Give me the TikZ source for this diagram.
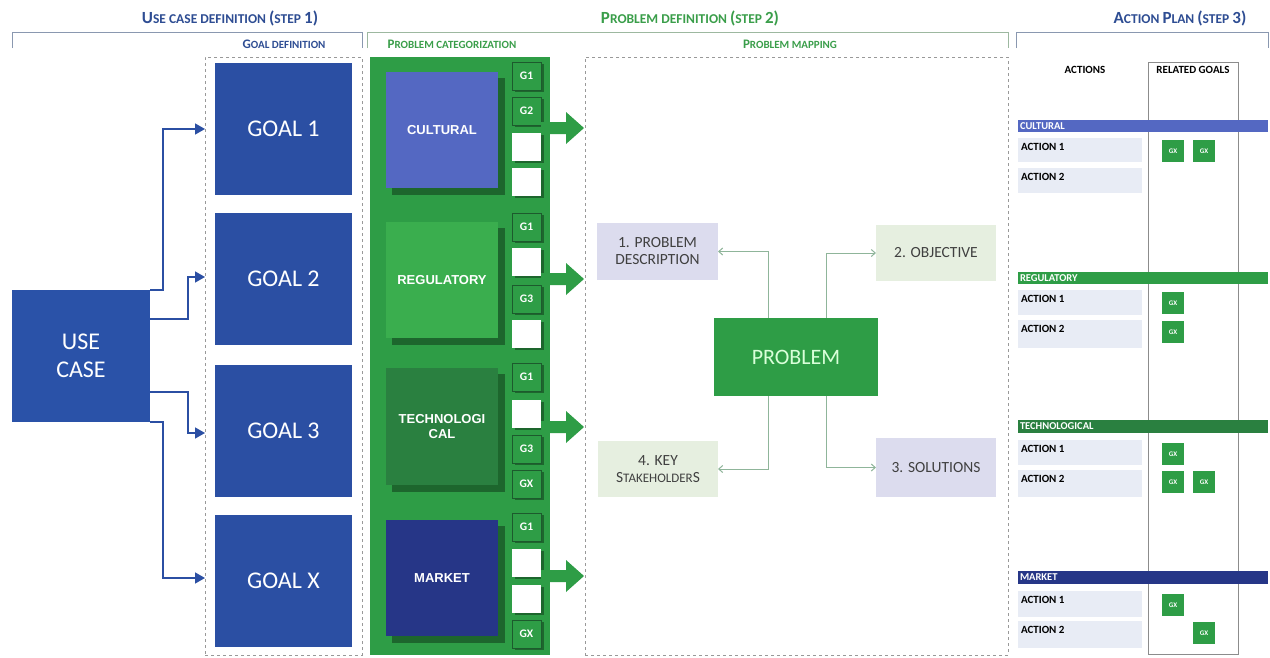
\documentclass[tikz,border=0pt]{standalone}
\usepackage{fontspec}
\setmainfont{Carlito}
\newfontfamily\arialf{Liberation Sans}
\usetikzlibrary{arrows.meta,calc}
\definecolor{gblue}{HTML}{2B4FA3}
\definecolor{ucblue}{HTML}{2A52A8}
\definecolor{pgreen}{HTML}{2E9D46}
\definecolor{cultc}{HTML}{5468C2}
\definecolor{regc}{HTML}{3AAE4E}
\definecolor{techc}{HTML}{2A8040}
\definecolor{markc}{HTML}{263687}
\definecolor{hblue}{HTML}{2E4D93}
\definecolor{hgreen}{HTML}{3A9E4A}
\definecolor{brgray}{HTML}{8A98B0}
\definecolor{brgreen}{HTML}{9DB8A0}
\definecolor{lav}{HTML}{DCDCEE}
\definecolor{lgr}{HTML}{E6EFE0}
\definecolor{rowc}{HTML}{E8ECF5}
\definecolor{connc}{HTML}{8FB59A}
\newcommand\HLg{\fontsize{17}{19}\selectfont}
\newcommand\HSm{\fontsize{13.5}{15}\selectfont}
\newcommand\SLg{\fontsize{13}{14}\selectfont}
\newcommand\SSm{\fontsize{11}{12}\selectfont}
% box macro: name, x1,y1,x2,y2, style, text
\newcommand\bx[7]{\node[#6, minimum width=#4pt-#2pt, minimum height=#5pt-#3pt] (#1) at ({(#2+#4)/2},{(#3+#5)/2}) {#7};}
\tikzset{
  base/.style={inner sep=0pt, outer sep=0pt, align=center},
  goalbox/.style={base, fill=gblue, text=white, font=\fontsize{24}{28}\selectfont},
  catbox/.style={base, text=white, font=\arialf\bfseries\fontsize{13}{15}\selectfont},
  gsq/.style={base, fill=pgreen, draw=techc!70!black, line width=0.6pt, text=white, font=\bfseries\fontsize{11.5}{12}\selectfont},
  wsq/.style={base, fill=white},
  mapbox/.style={base, text=black!75, font=\fontsize{15.5}{17}\selectfont},
  cbar/.style={base, text=white, font=\bfseries\fontsize{10.5}{11}\selectfont, anchor=west, text depth=0pt},
  rowbox/.style={base, fill=rowc},
  gx/.style={base, fill=pgreen, text=white, font=\bfseries\fontsize{7}{7}\selectfont},
  uarr/.style={draw=gblue, line width=1.5pt, -{Triangle[length=10pt,width=11pt]}},
  parr/.style={draw=connc, line width=1pt, -{Straight Barb[length=4pt,width=7pt]}},
  bracket/.style={line width=0.9pt},
  shadowc/.style={fill=black, opacity=0.35},
}
\begin{document}
\begin{tikzpicture}[x=1pt,y=-1pt]
\useasboundingbox[fill=white] (0,0) rectangle (1270,657);
% headings
\node[base, text=hblue, font=\bfseries] (h1) at (230,18) {{\HLg U}{\HSm SE CASE DEFINITION }{\HLg (}{\HSm STEP }{\HLg 1)}};
\node[base, text=hgreen, font=\bfseries] (h2) at (690,18) {{\HLg P}{\HSm ROBLEM DEFINITION }{\HLg (}{\HSm STEP }{\HLg 2)}};
\node[base, text=hblue, font=\bfseries] (h3) at (1180,18) {{\HLg A}{\HSm CTION }{\HLg P}{\HSm LAN }{\HLg (}{\HSm STEP }{\HLg 3)}};
\draw[bracket, brgray] (12,48) -- (12,32) -- (362,32) -- (362,48);
\draw[bracket, brgreen] (367,48) -- (367,32) -- (1008,32) -- (1008,48);
\draw[bracket, brgray] (1016,48) -- (1016,32) -- (1268,32) -- (1268,48);
\node[base, text=hblue, font=\bfseries] (s1) at (284,44) {{\SLg G}{\SSm OAL DEFINITION}};
\node[base, text=hgreen, font=\bfseries] (s2) at (452,44) {{\SLg P}{\SSm ROBLEM CATEGORIZATION}};
\node[base, text=hgreen, font=\bfseries] (s3) at (790,44) {{\SLg P}{\SSm ROBLEM MAPPING}};
% goal dashed box
\bx{gbox}{205}{57}{362}{655}{base, draw=black!40, dashed, line width=0.8pt}{}
\bx{g1}{215}{63}{352}{195}{goalbox}{GOAL 1}
\bx{g2}{215}{213}{352}{345}{goalbox}{GOAL 2}
\bx{g3}{215}{365}{352}{497}{goalbox}{GOAL 3}
\bx{gx}{215}{515}{352}{647}{goalbox}{GOAL X}
% use case
\bx{uc}{12}{290}{150}{422}{goalbox, fill=ucblue}{USE\\CASE}
\draw[uarr] (uc.north east) -- ++(13,0) |- (gbox.west |- g1);
\draw[uarr] ([yshift=37pt]uc.east) -- ++(38,0) |- ([yshift=2pt]gbox.west |- g2);
\draw[uarr] ([yshift=-36pt]uc.east) -- ++(38,0) |- ([yshift=-2pt]gbox.west |- g3);
\draw[uarr] (uc.south east) -- ++(13,0) |- ([yshift=3pt]gbox.west |- gx);
% green panel
\bx{panel}{370}{57}{550}{655}{base, fill=pgreen}{}
% category shadows
\fill[shadowc] (392,78) rectangle (505,195);
\fill[shadowc] (392,228) rectangle (505,345);
\fill[shadowc] (392,374) rectangle (505,492);
\fill[shadowc] (392,526) rectangle (505,643);
\bx{cult}{386}{72}{498}{188}{catbox, fill=cultc}{CULTURAL}
\bx{reg}{386}{222}{498}{338}{catbox, fill=regc}{REGULATORY}
\bx{tech}{386}{368}{498}{485}{catbox, fill=techc}{TECHNOLOGI\\CAL}
\bx{mark}{386}{520}{498}{636}{catbox, fill=markc}{MARKET}
% G squares
\foreach \y in {62,97,133,168,213,248,285,320,363,400,435,470,513,549,585,620}
  \fill[black, opacity=0.35] (515,\y+2) rectangle (544,\y+30);
\bx{c1}{512}{62}{541}{90}{gsq}{G1}
\bx{c2}{512}{97}{541}{125}{gsq}{G2}
\bx{c3}{512}{133}{541}{161}{wsq}{}
\bx{c4}{512}{168}{541}{196}{wsq}{}
\bx{r1}{512}{213}{541}{241}{gsq}{G1}
\bx{r2}{512}{248}{541}{276}{wsq}{}
\bx{r3}{512}{285}{541}{313}{gsq}{G3}
\bx{r4}{512}{320}{541}{348}{wsq}{}
\bx{t1}{512}{363}{541}{391}{gsq}{G1}
\bx{t2}{512}{400}{541}{428}{wsq}{}
\bx{t3}{512}{435}{541}{463}{gsq}{G3}
\bx{t4}{512}{470}{541}{498}{gsq}{GX}
\bx{m1}{512}{513}{541}{541}{gsq}{G1}
\bx{m2}{512}{549}{541}{577}{wsq}{}
\bx{m3}{512}{585}{541}{613}{wsq}{}
\bx{m4}{512}{620}{541}{648}{gsq}{GX}
% big green arrows
\foreach \y in {128,279,427,576}
  \fill[pgreen] (541,\y-6) -- (566,\y-6) -- (566,\y-16) -- (584,\y) -- (566,\y+16) -- (566,\y+6) -- (541,\y+6) -- cycle;
% problem mapping
\bx{mbox}{585}{57}{1008}{655}{base, draw=black!40, dashed, line width=0.8pt}{}
\bx{pd}{597}{223}{718}{280}{mapbox, fill=lav}{1. PROBLEM\\DESCRIPTION}
\bx{obj}{876}{225}{996}{281}{mapbox, fill=lgr}{2. OBJECTIVE}
\bx{sh}{598}{441}{718}{497}{mapbox, fill=lgr}{4. KEY\\S{\fontsize{13}{15}\selectfont TAKEHOLDER}S}
\bx{sol}{876}{438}{996}{497}{mapbox, fill=lav}{3. SOLUTIONS}
\bx{prob}{714}{318}{878}{396}{base, fill=pgreen, text=green!15!white, font=\fontsize{22}{26}\selectfont}{PROBLEM}
\draw[parr] ([xshift=-28pt]prob.north) |- (pd.east);
\draw[parr] ([xshift=30pt]prob.north) |- (obj.west);
\draw[parr] ([xshift=-28pt]prob.south) |- (sh.east);
\draw[parr] ([xshift=30pt]prob.south) |- (sol.west);
% action plan
\bx{rg}{1148}{62}{1238}{654}{base, draw=black!45, line width=0.8pt}{}
\node[base, font=\bfseries\fontsize{11}{12}\selectfont] (acts) at (1085,70) {ACTIONS};
\node[base, font=\bfseries\fontsize{11}{12}\selectfont] (rgl) at (1193,70) {RELATED GOALS};
\bx{bc}{1018}{120}{1268}{132}{base, fill=cultc}{}
\bx{br}{1018}{272}{1268}{284}{base, fill=pgreen}{}
\bx{bt}{1018}{420}{1268}{433}{base, fill=techc}{}
\bx{bm}{1018}{571}{1268}{584}{base, fill=markc}{}
\node[cbar] at ([xshift=2pt]bc.west) {CULTURAL};
\node[cbar] at ([xshift=2pt]br.west) {REGULATORY};
\node[cbar] at ([xshift=2pt]bt.west) {TECHNOLOGICAL};
\node[cbar] at ([xshift=2pt]bm.west) {MARKET};
\tikzset{acttxt/.style={base, anchor=north west, font=\bfseries\fontsize{11}{12}\selectfont}}
\foreach \n/\a/\b/\t in {ca1/138/162/ACTION 1, ca2/168/193/ACTION 2, ra1/290/315/ACTION 1, ra2/320/348/ACTION 2, ta1/440/465/ACTION 1, ta2/470/497/ACTION 2, ma1/591/617/ACTION 1, ma2/621/648/ACTION 2}{
  \bx{\n}{1018}{\a}{1142}{\b}{rowbox}{}
  \node[acttxt] at ([xshift=3pt,yshift=-5pt]\n.north west) {\t};
}
\bx{x1}{1162}{140}{1184}{162}{gx}{GX}
\bx{x2}{1193}{140}{1215}{162}{gx}{GX}
\bx{x3}{1162}{292}{1184}{314}{gx}{GX}
\bx{x4}{1162}{321}{1184}{343}{gx}{GX}
\bx{x5}{1162}{443}{1184}{465}{gx}{GX}
\bx{x6}{1162}{471}{1184}{493}{gx}{GX}
\bx{x7}{1193}{471}{1215}{493}{gx}{GX}
\bx{x8}{1162}{594}{1184}{616}{gx}{GX}
\bx{x9}{1193}{622}{1215}{644}{gx}{GX}
\end{tikzpicture}
\end{document}
